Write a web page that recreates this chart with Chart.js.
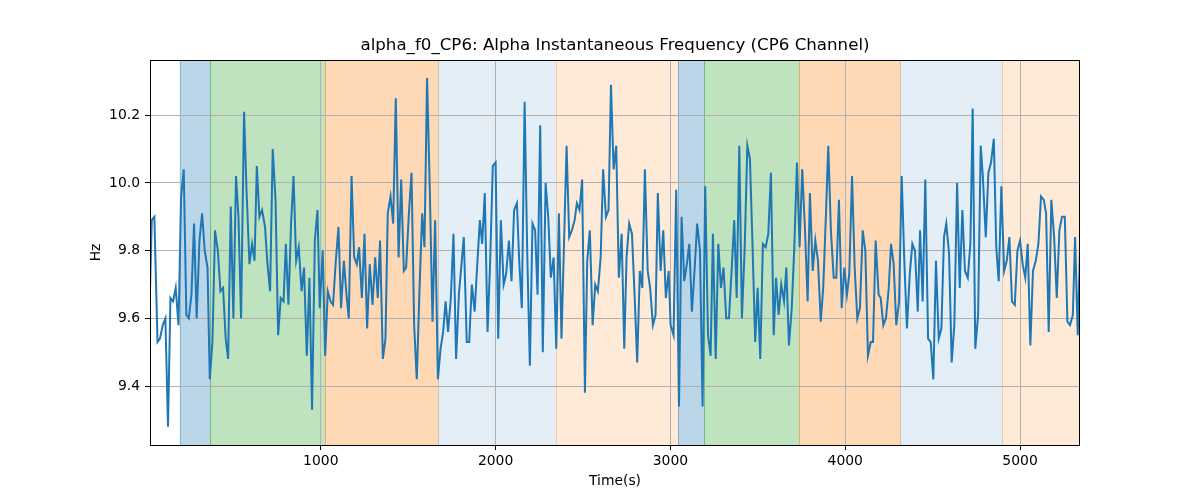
<!DOCTYPE html>
<html>
<head>
<meta charset="utf-8">
<script src="https://cdn.jsdelivr.net/npm/chart.js@4"></script>
<style>
  html, body { margin: 0; padding: 0; background: #fff; }
  #wrap { width: 1200px; height: 500px; }
</style>
</head>
<body>
<div id="wrap"><canvas id="chart" width="1200" height="500"></canvas></div>
<script>
// Sample times (s) and instantaneous frequency (Hz)
const times = [
  23, 33, 48, 66, 80, 96, 111, 126, 140, 155,
  170, 186, 201, 216, 231, 245, 260, 275, 290, 306,
  321, 336, 352, 365, 380, 395, 411, 426, 441, 456,
  470, 485, 500, 515, 529, 544, 561, 575, 592, 607,
  621, 634, 649, 664, 681, 695, 710, 725, 741, 756,
  771, 787, 800, 815, 830, 844, 859, 874, 890, 904,
  920, 935, 950, 966, 981, 994, 1011, 1025, 1040, 1056,
  1070, 1086, 1101, 1116, 1132, 1147, 1160, 1176, 1191, 1206,
  1219, 1235, 1250, 1265, 1280, 1296, 1311, 1326, 1339, 1355,
  1370, 1383, 1399, 1414, 1429, 1445, 1460, 1475, 1488, 1504,
  1519, 1534, 1549, 1565, 1580, 1593, 1608, 1624, 1639, 1654,
  1670, 1685, 1700, 1714, 1728, 1744, 1759, 1774, 1790, 1818,
  1835, 1849, 1864, 1880, 1894, 1910, 1923, 1938, 1954, 1969,
  1984, 2000, 2015, 2030, 2046, 2060, 2076, 2091, 2106, 2122,
  2135, 2150, 2166, 2181, 2196, 2211, 2226, 2240, 2255, 2270,
  2286, 2301, 2316, 2332, 2347, 2362, 2377, 2406, 2421, 2436,
  2452, 2465, 2480, 2495, 2511, 2524, 2539, 2555, 2570, 2585,
  2601, 2615, 2631, 2646, 2660, 2675, 2690, 2705, 2721, 2736,
  2749, 2764, 2780, 2795, 2810, 2825, 2839, 2854, 2870, 2884,
  2900, 2915, 2928, 2944, 2959, 2974, 2990, 3001, 3018, 3033,
  3049, 3064, 3079, 3094, 3108, 3123, 3139, 3153, 3169, 3184,
  3199, 3215, 3230, 3243, 3259, 3274, 3289, 3304, 3319, 3335,
  3350, 3365, 3379, 3394, 3409, 3425, 3440, 3455, 3470, 3485,
  3499, 3514, 3529, 3545, 3560, 3575, 3591, 3604, 3619, 3634,
  3650, 3663, 3678, 3694, 3708, 3724, 3739, 3754, 3770, 3785,
  3798, 3814, 3829, 3844, 3860, 3874, 3890, 3903, 3918, 3934,
  3949, 3964, 3980, 3995, 4010, 4023, 4039, 4054, 4069, 4084,
  4100, 4115, 4130, 4146, 4159, 4174, 4191, 4203, 4218, 4233,
  4249, 4262, 4277, 4292, 4308, 4323, 4338, 4353, 4369, 4384,
  4399, 4415, 4428, 4443, 4458, 4474, 4489, 4504, 4519, 4535,
  4550, 4565, 4578, 4594, 4609, 4624, 4640, 4655, 4670, 4685,
  4701, 4716, 4729, 4744, 4760, 4775, 4787, 4804, 4819, 4834,
  4850, 4864, 4878, 4893, 4909, 4924, 4939, 4954, 4970, 4985,
  5000, 5015, 5030, 5044, 5059, 5074, 5090, 5105, 5120, 5136,
  5149, 5164, 5179, 5195, 5210, 5225, 5240, 5256, 5271, 5286,
  5302, 5315, 5330, 5343
];
const hz = [
  9.68, 9.89, 9.90, 9.53, 9.54, 9.58, 9.60, 9.28, 9.66, 9.65,
  9.69, 9.58, 9.96, 10.04, 9.61, 9.60, 9.67, 9.88, 9.60, 9.83,
  9.91, 9.80, 9.75, 9.42, 9.53, 9.86, 9.80, 9.68, 9.69, 9.54,
  9.48, 9.93, 9.60, 10.02, 9.90, 9.60, 10.21, 9.98, 9.76, 9.82,
  9.77, 10.05, 9.90, 9.92, 9.87, 9.76, 9.68, 10.10, 9.95, 9.55,
  9.66, 9.65, 9.82, 9.64, 9.88, 10.02, 9.77, 9.81, 9.68, 9.75,
  9.49, 9.72, 9.33, 9.83, 9.92, 9.63, 9.80, 9.49, 9.68, 9.65,
  9.64, 9.77, 9.87, 9.63, 9.77, 9.67, 9.60, 10.02, 9.78, 9.76,
  9.81, 9.66, 9.85, 9.57, 9.76, 9.64, 9.78, 9.66, 9.83, 9.48,
  9.54, 9.91, 9.96, 9.88, 10.25, 9.78, 10.01, 9.74, 9.75, 9.91,
  10.03, 9.58, 9.42, 9.69, 9.91, 9.81, 10.31, 9.97, 9.59, 9.89,
  9.42, 9.51, 9.56, 9.65, 9.56, 9.66, 9.85, 9.48, 9.67, 9.84,
  9.53, 9.53, 9.70, 9.62, 9.75, 9.89, 9.82, 9.97, 9.56, 9.77,
  10.05, 10.06, 9.54, 9.89, 9.70, 9.73, 9.83, 9.71, 9.92, 9.94,
  9.77, 9.63, 10.24, 9.79, 9.46, 9.88, 9.86, 9.67, 10.17, 9.50,
  10.00, 9.90, 9.72, 9.78, 9.51, 9.91, 9.54, 10.11, 9.84, 9.86,
  9.89, 9.94, 9.92, 10.01, 9.38, 9.77, 9.86, 9.58, 9.70, 9.68,
  9.78, 10.04, 9.90, 9.92, 10.29, 10.04, 10.11, 9.72, 9.85, 9.51,
  9.78, 9.88, 9.85, 9.67, 9.47, 9.74, 9.69, 10.04, 9.74, 9.69,
  9.58, 9.61, 9.97, 9.74, 9.86, 9.66, 9.74, 9.58, 9.55, 9.98,
  9.34, 9.90, 9.71, 9.76, 9.82, 9.62, 9.75, 9.88, 9.80, 9.34,
  9.99, 9.55, 9.49, 9.85, 9.48, 9.82, 9.69, 9.75, 9.60, 9.60,
  9.74, 9.89, 9.66, 10.11, 9.60, 9.81, 10.11, 10.07, 9.81, 9.53,
  9.69, 9.48, 9.82, 9.81, 9.85, 10.03, 9.55, 9.72, 9.61, 9.70,
  9.65, 9.75, 9.52, 9.63, 9.80, 10.06, 9.81, 10.04, 9.86, 9.65,
  9.97, 9.74, 9.83, 9.77, 9.59, 9.69, 9.91, 10.11, 9.86, 9.72,
  9.72, 9.95, 9.63, 9.75, 9.67, 9.73, 10.02, 9.75, 9.60, 9.63,
  9.86, 9.80, 9.49, 9.53, 9.53, 9.83, 9.67, 9.66, 9.58, 9.60,
  9.69, 9.82, 9.76, 9.58, 9.65, 10.02, 9.77, 9.57, 9.73, 9.82,
  9.80, 9.62, 9.86, 9.65, 10.01, 9.54, 9.53, 9.42, 9.77, 9.54,
  9.57, 9.84, 9.88, 9.79, 9.47, 9.58, 10.00, 9.69, 9.92, 9.74,
  9.72, 9.82, 10.22, 9.51, 9.61, 10.11, 10.02, 9.84, 10.03, 10.06,
  10.13, 9.81, 9.71, 9.99, 9.74, 9.77, 9.84, 9.65, 9.64, 9.80,
  9.83, 9.76, 9.72, 9.82, 9.52, 9.74, 9.77, 9.82, 9.96, 9.95,
  9.91, 9.56, 9.95, 9.84, 9.66, 9.86, 9.90, 9.90, 9.59, 9.58,
  9.61, 9.84, 9.55, 9.80
];

// Axis ticks
const xTicks = [1000, 2000, 3000, 4000, 5000];
const yTicks = [9.4, 9.6, 9.8, 10.0, 10.2];

// Shaded segments (start, end, kind)
const spanStart = [193, 365, 1023, 1670, 2345, 3043, 3192, 3735, 4313, 4897];
const spanEnd = [365, 1023, 1670, 2345, 3043, 3192, 3735, 4313, 4897, 5343];
const spanKind = ['blue', 'green', 'orange', 'paleBlue', 'paleOrange',
                  'blue', 'green', 'orange', 'paleBlue', 'paleOrange'];

const chartTitle = 'alpha_f0_CP6: Alpha Instantaneous Frequency (CP6 Channel)';

const spanColors = {
  blue: 'rgba(31, 119, 180, 0.3)',
  green: 'rgba(44, 160, 44, 0.3)',
  orange: 'rgba(255, 127, 14, 0.3)',
  paleBlue: 'rgba(31, 119, 180, 0.12)',
  paleOrange: 'rgba(255, 127, 14, 0.16)'
};

Chart.defaults.font.family = '"DejaVu Sans", sans-serif';
Chart.defaults.color = '#000';

// Background bands under the grid, frame and title on top
const bandsPlugin = {
  id: 'bands',
  beforeDraw(chart) {
    const { ctx, chartArea: a, scales: { x } } = chart;
    ctx.save();
    ctx.fillStyle = '#fff';
    ctx.fillRect(0, 0, chart.width, chart.height);
    ctx.beginPath();
    ctx.rect(a.left, a.top, a.right - a.left, a.bottom - a.top);
    ctx.clip();
    spanStart.forEach((s, i) => {
      const x0 = x.getPixelForValue(s);
      const x1 = x.getPixelForValue(spanEnd[i]);
      ctx.fillStyle = spanColors[spanKind[i]];
      ctx.fillRect(x0, a.top, x1 - x0, a.bottom - a.top);
      ctx.strokeStyle = spanColors[spanKind[i]];
      ctx.lineWidth = 1;
      ctx.beginPath();
      ctx.moveTo(Math.round(x0) + 0.5, a.top);
      ctx.lineTo(Math.round(x0) + 0.5, a.bottom);
      ctx.moveTo(Math.round(x1) + 0.5, a.top);
      ctx.lineTo(Math.round(x1) + 0.5, a.bottom);
      ctx.stroke();
    });
    ctx.restore();
  },
  afterDatasetsDraw(chart) {
    const { ctx, chartArea: a } = chart;
    ctx.save();
    ctx.strokeStyle = '#000';
    ctx.lineWidth = 1;
    ctx.strokeRect(Math.round(a.left) + 0.5, Math.round(a.top) + 0.5,
                   Math.round(a.right - a.left) - 1, Math.round(a.bottom - a.top));
    ctx.fillStyle = '#000';
    ctx.font = '16.67px "DejaVu Sans", sans-serif';
    ctx.textAlign = 'center';
    ctx.textBaseline = 'middle';
    ctx.fillText(chartTitle, (a.left + a.right) / 2, 46);
    ctx.restore();
  }
};

new Chart(document.getElementById('chart'), {
  type: 'line',
  data: {
    datasets: [{
      label: 'alpha_f0_CP6',
      data: times.map((t, i) => ({ x: t, y: hz[i] })),
      borderColor: '#1f77b4',
      borderWidth: 2,
      pointRadius: 0,
      tension: 0,
      fill: false
    }]
  },
  options: {
    responsive: false,
    animation: false,
    layout: { padding: { left: 0, right: 120, top: 60, bottom: 0 } },
    plugins: {
      legend: { display: false },
      tooltip: { enabled: false },
      title: { display: false }
    },
    scales: {
      x: {
        type: 'linear',
        min: times[0],
        max: times[times.length - 1],
        afterBuildTicks: scale => { scale.ticks = xTicks.map(v => ({ value: v })); },
        afterFit: scale => { scale.height = 55; },
        ticks: {
          font: { size: 13.9 },
          padding: 3,
          maxRotation: 0,
          callback: v => String(v)
        },
        grid: { color: '#b0b0b0', lineWidth: 1, tickColor: '#000', tickLength: 5 },
        border: { display: false },
        title: {
          display: true,
          text: 'Time(s)',
          font: { size: 13.9 },
          padding: { top: 0, bottom: 10.7 }
        }
      },
      y: {
        min: 9.226,
        max: 10.363,
        afterBuildTicks: scale => { scale.ticks = yTicks.map(v => ({ value: v })); },
        afterFit: scale => { scale.width = 150; },
        ticks: {
          font: { size: 13.9 },
          padding: 5,
          callback: v => Number(v).toFixed(1)
        },
        grid: { color: '#b0b0b0', lineWidth: 1, tickColor: '#000', tickLength: 5 },
        border: { display: false },
        title: {
          display: true,
          text: 'Hz',
          font: { size: 13.9 },
          padding: { top: 87.7, bottom: 0 }
        }
      }
    }
  },
  plugins: [bandsPlugin]
});
</script>
</body>
</html>
